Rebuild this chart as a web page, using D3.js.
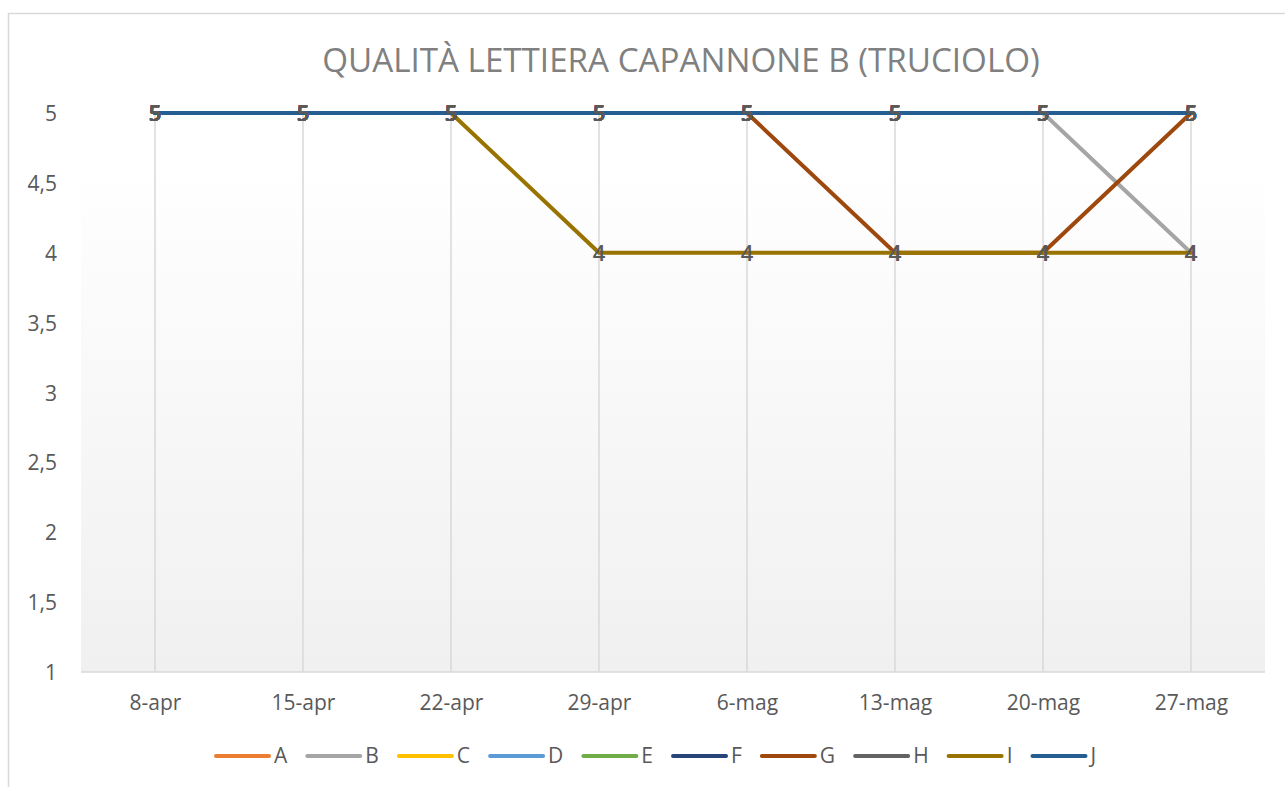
<!DOCTYPE html>
<html>
<head>
<meta charset="utf-8">
<script src="https://cdn.jsdelivr.net/npm/d3@7/dist/d3.min.js"></script>
<style>
  html, body { margin: 0; padding: 0; background: #ffffff; }
  svg { display: block; }
  text { font-family: "Open Sans", "Noto Sans", sans-serif; }
</style>
</head>
<body>
<svg id="chart" width="1285" height="787"></svg>
<script>
const title = "QUALITÀ LETTIERA CAPANNONE B (TRUCIOLO)";
const categories = ["8-apr", "15-apr", "22-apr", "29-apr", "6-mag", "13-mag", "20-mag", "27-mag"];
const seriesNames = ["A", "B", "C", "D", "E", "F", "G", "H", "I", "J"];
const seriesColors = ["#ED7D31", "#A5A5A5", "#FFC000", "#5B9BD5", "#70AD47", "#264478", "#9E480E", "#636363", "#997300", "#255E91"];
const valuesA = [5, 5, 5, 5, 5, 5, 5, 5];
const valuesB = [5, 5, 5, 5, 5, 5, 5, 4];
const valuesC = [5, 5, 5, 5, 5, 5, 5, 5];
const valuesD = [5, 5, 5, 5, 5, 5, 5, 5];
const valuesE = [5, 5, 5, 5, 5, 5, 5, 5];
const valuesF = [5, 5, 5, 5, 5, 5, 5, 5];
const valuesG = [5, 5, 5, 5, 5, 4, 4, 5];
const valuesH = [5, 5, 5, 5, 5, 5, 5, 5];
const valuesI = [5, 5, 5, 4, 4, 4, 4, 4];
const valuesJ = [5, 5, 5, 5, 5, 5, 5, 5];
const yTicks = [1, 1.5, 2, 2.5, 3, 3.5, 4, 4.5, 5];

const seriesValues = [valuesA, valuesB, valuesC, valuesD, valuesE, valuesF, valuesG, valuesH, valuesI, valuesJ];
const series = seriesNames.map((n, i) => ({ name: n, color: seriesColors[i], values: seriesValues[i] }));

const svg = d3.select("#chart");
const W = 1285, H = 787;
const plot = { left: 81, right: 1265, top: 113, bottom: 672 };

// chart frame
svg.append("rect")
  .attr("x", 8.5).attr("y", 13.5)
  .attr("width", W + 20).attr("height", H + 20)
  .attr("fill", "#ffffff").attr("stroke", "#d9d9d9").attr("stroke-width", 1.5);

// gradient plot background
const defs = svg.append("defs");
const grad = defs.append("linearGradient").attr("id", "pbg")
  .attr("x1", 0).attr("y1", 0).attr("x2", 0).attr("y2", 1);
grad.append("stop").attr("offset", "0%").attr("stop-color", "#ffffff");
grad.append("stop").attr("offset", "15%").attr("stop-color", "#ffffff");
grad.append("stop").attr("offset", "100%").attr("stop-color", "#f0f0f0");

const x = d3.scalePoint().domain(categories).range([plot.left, plot.right]).padding(0.5);
const y = d3.scaleLinear().domain([1, 5]).range([plot.bottom, plot.top]);

svg.append("rect")
  .attr("x", plot.left).attr("y", plot.top - 40)
  .attr("width", plot.right - plot.left).attr("height", plot.bottom - plot.top + 40)
  .attr("fill", "url(#pbg)");

// vertical gridlines
svg.append("g").selectAll("line").data(categories).join("line")
  .attr("x1", d => x(d)).attr("x2", d => x(d))
  .attr("y1", plot.top).attr("y2", plot.bottom)
  .attr("stroke", "#d9d9d9").attr("stroke-width", 1.5);

// category axis line
svg.append("line")
  .attr("x1", plot.left).attr("x2", plot.right)
  .attr("y1", plot.bottom).attr("y2", plot.bottom)
  .attr("stroke", "#d9d9d9").attr("stroke-width", 1.5);

// y axis labels
const yAxis = d3.axisLeft(y).tickValues(yTicks).tickSize(0).tickPadding(0)
  .tickFormat(d => String(d).replace(".", ","));
const yg = svg.append("g").attr("transform", "translate(57,0)").call(yAxis);
yg.select(".domain").remove();
yg.selectAll("text").attr("fill", "#595959").attr("font-size", 21)
  .attr("font-family", "Open Sans, sans-serif").attr("dy", "0.36em");

// x axis labels
const xAxis = d3.axisBottom(x).tickSize(0).tickPadding(0);
const xg = svg.append("g").attr("transform", `translate(0,${plot.bottom})`).call(xAxis);
xg.select(".domain").remove();
xg.selectAll("text").attr("fill", "#595959").attr("font-size", 21)
  .attr("font-family", "Open Sans, sans-serif").attr("y", 38).attr("dy", 0);

// lines
const line = d3.line().x((d, i) => x(categories[i])).y(d => y(d));
svg.append("g").selectAll("path").data(series).join("path")
  .attr("d", s => line(s.values))
  .attr("fill", "none").attr("stroke", s => s.color)
  .attr("stroke-width", 4).attr("stroke-linejoin", "round").attr("stroke-linecap", "round");

// data labels
const lg = svg.append("g");
series.forEach(s => {
  lg.selectAll(null).data(s.values).join("text")
    .attr("x", (d, i) => x(categories[i]))
    .attr("y", d => y(d))
    .attr("dy", "0.36em")
    .attr("text-anchor", "middle")
    .attr("font-size", 22)
    .attr("font-weight", 600)
    .attr("fill", "#595959")
    .text(d => d);
});

// title
const t = svg.append("text")
  .attr("x", 681).attr("y", 72)
  .attr("text-anchor", "middle")
  .attr("fill", "#808080")
  .attr("font-size", 32)
  .text(title);
const tw = t.node().getComputedTextLength();
t.attr("font-size", 32 * 718 / tw);

// legend
const leg = svg.append("g");
let lx = 215;
series.forEach(s => {
  const g = leg.append("g");
  g.append("line").attr("x1", lx + 1).attr("x2", lx + 54).attr("y1", 756).attr("y2", 756)
    .attr("stroke", s.color).attr("stroke-width", 4).attr("stroke-linecap", "round");
  const tx = g.append("text").attr("x", lx + 59).attr("y", 763)
    .attr("font-size", 21).attr("fill", "#595959").text(s.name);
  const w = tx.node().getComputedTextLength();
  lx = lx + 59 + w + 19;
});
</script>
</body>
</html>
